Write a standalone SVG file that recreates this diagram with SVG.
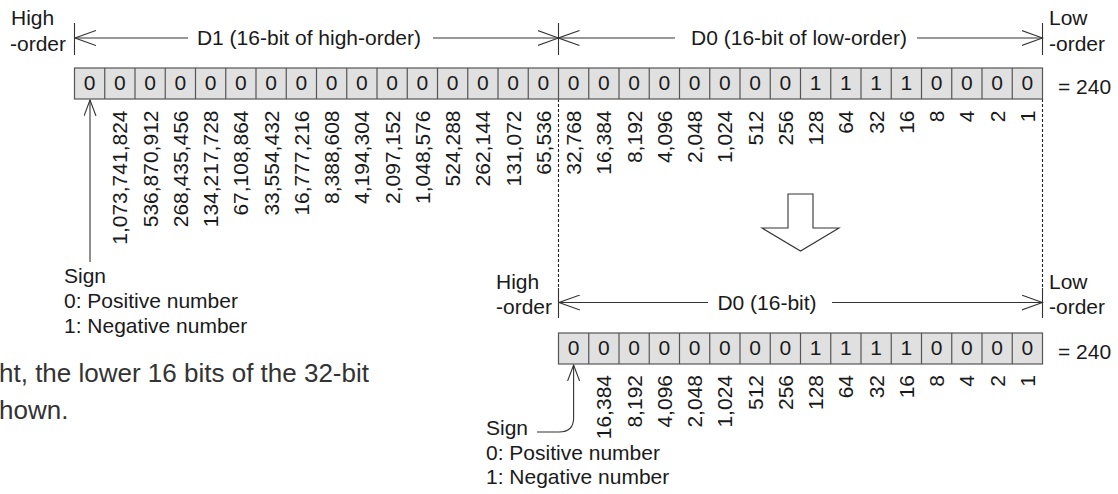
<svg xmlns="http://www.w3.org/2000/svg" width="1118" height="494" viewBox="0 0 1118 494">
<defs>
<style>
text{font-family:"Liberation Sans",Arial,sans-serif;font-size:21px;fill:#1a1a1a}
.c{text-anchor:middle}
.r{text-anchor:end}
.para{font-size:26px;fill:#333}
.cell{fill:#e0e0e0;stroke:#555;stroke-width:1.2}
.div{fill:none;stroke:#555;stroke-width:1.2}
.ln{fill:none;stroke:#333;stroke-width:1.1}
.dash{fill:none;stroke:#222;stroke-width:1.1;stroke-dasharray:3 2}
</style>
<marker id="dim" viewBox="0 0 22 16" refX="21" refY="8" markerWidth="22" markerHeight="16" markerUnits="userSpaceOnUse" orient="auto">
<path d="M0,0.5 L21,8 L0,15.5" fill="none" stroke="#333" stroke-width="1.1"/>
</marker>
<marker id="sig" viewBox="0 0 17 13" refX="16" refY="6.5" markerWidth="17" markerHeight="13" markerUnits="userSpaceOnUse" orient="auto">
<path d="M0,0.5 L16,6.5 L0,12.5" fill="none" stroke="#333" stroke-width="1.1"/>
</marker>
</defs>
<rect width="1118" height="494" fill="#fff"/>

<g id="connectors">
<path class="ln" d="M74.5,23 V55 M558.5,23 V55 M1042.5,23 V55"/>
<path class="ln" d="M188,38 H75" marker-end="url(#dim)"/>
<path class="ln" d="M433,38 H558.5" marker-end="url(#dim)"/>
<path class="ln" d="M675,38 H558.5" marker-end="url(#dim)"/>
<path class="ln" d="M917,38 H1042.5" marker-end="url(#dim)"/>
<path class="dash" d="M558.5,99 V288 M1042.5,99 V288"/>
<path class="ln" d="M558.5,288 V318 M1042.5,288 V318"/>
<path class="ln" d="M708,302.5 H559" marker-end="url(#dim)"/>
<path class="ln" d="M832,302.5 H1042.5" marker-end="url(#dim)"/>
<path class="ln" d="M90,262 V100" marker-end="url(#sig)"/>
<path class="ln" d="M537,432 H559 Q573.6,432 573.6,418 V365" marker-end="url(#sig)"/>
<polygon id="down-arrow" points="788,194 813,194 813,228 839,228 800.5,251 762,228 788,228" fill="#fff" stroke="#333" stroke-width="1.1"/>
</g>

<g id="top-labels">
<text x="11" y="25">High</text>
<text x="10" y="51">-order</text>
<text x="1049" y="25">Low</text>
<text x="1049" y="51">-order</text>
<text class="c" x="309" y="45">D1 (16-bit of high-order)</text>
<text class="c" x="799" y="45">D0 (16-bit of low-order)</text>
</g>

<g id="row32">
<rect class="cell" x="74.5" y="68" width="968" height="31"/>
<path class="div" d="M104.75,68v31M135,68v31M165.25,68v31M195.5,68v31M225.75,68v31M256,68v31M286.25,68v31M316.5,68v31M346.75,68v31M377,68v31M407.25,68v31M437.5,68v31M467.75,68v31M498,68v31M528.25,68v31M558.5,68v31M588.75,68v31M619,68v31M649.25,68v31M679.5,68v31M709.75,68v31M740,68v31M770.25,68v31M800.5,68v31M830.75,68v31M861,68v31M891.25,68v31M921.5,68v31M951.75,68v31M982,68v31M1012.25,68v31"/>
<g class="c">
<text x="89.6" y="90">0</text><text x="119.9" y="90">0</text><text x="150.1" y="90">0</text><text x="180.4" y="90">0</text>
<text x="210.6" y="90">0</text><text x="240.9" y="90">0</text><text x="271.1" y="90">0</text><text x="301.4" y="90">0</text>
<text x="331.6" y="90">0</text><text x="361.9" y="90">0</text><text x="392.1" y="90">0</text><text x="422.4" y="90">0</text>
<text x="452.6" y="90">0</text><text x="482.9" y="90">0</text><text x="513.1" y="90">0</text><text x="543.4" y="90">0</text>
<text x="573.6" y="90">0</text><text x="603.9" y="90">0</text><text x="634.1" y="90">0</text><text x="664.4" y="90">0</text>
<text x="694.6" y="90">0</text><text x="724.9" y="90">0</text><text x="755.1" y="90">0</text><text x="785.4" y="90">0</text>
<text x="815.6" y="90">1</text><text x="845.9" y="90">1</text><text x="876.1" y="90">1</text><text x="906.4" y="90">1</text>
<text x="936.6" y="90">0</text><text x="966.9" y="90">0</text><text x="997.1" y="90">0</text><text x="1027.4" y="90">0</text>
</g>
<text x="1058" y="94">= 240</text>
</g>

<g id="weights32" class="r">
<text transform="translate(127.4 110.5) rotate(-90)">1,073,741,824</text>
<text transform="translate(157.6 110.5) rotate(-90)">536,870,912</text>
<text transform="translate(187.9 110.5) rotate(-90)">268,435,456</text>
<text transform="translate(218.1 110.5) rotate(-90)">134,217,728</text>
<text transform="translate(248.4 110.5) rotate(-90)">67,108,864</text>
<text transform="translate(278.6 110.5) rotate(-90)">33,554,432</text>
<text transform="translate(308.9 110.5) rotate(-90)">16,777,216</text>
<text transform="translate(339.1 110.5) rotate(-90)">8,388,608</text>
<text transform="translate(369.4 110.5) rotate(-90)">4,194,304</text>
<text transform="translate(399.6 110.5) rotate(-90)">2,097,152</text>
<text transform="translate(429.9 110.5) rotate(-90)">1,048,576</text>
<text transform="translate(460.1 110.5) rotate(-90)">524,288</text>
<text transform="translate(490.4 110.5) rotate(-90)">262,144</text>
<text transform="translate(520.6 110.5) rotate(-90)">131,072</text>
<text transform="translate(550.9 110.5) rotate(-90)">65,536</text>
<text transform="translate(581.1 110.5) rotate(-90)">32,768</text>
<text transform="translate(611.4 110.5) rotate(-90)">16,384</text>
<text transform="translate(641.6 110.5) rotate(-90)">8,192</text>
<text transform="translate(671.9 110.5) rotate(-90)">4,096</text>
<text transform="translate(702.1 110.5) rotate(-90)">2,048</text>
<text transform="translate(732.4 110.5) rotate(-90)">1,024</text>
<text transform="translate(762.6 110.5) rotate(-90)">512</text>
<text transform="translate(792.9 110.5) rotate(-90)">256</text>
<text transform="translate(823.1 110.5) rotate(-90)">128</text>
<text transform="translate(853.4 110.5) rotate(-90)">64</text>
<text transform="translate(883.6 110.5) rotate(-90)">32</text>
<text transform="translate(913.9 110.5) rotate(-90)">16</text>
<text transform="translate(944.1 110.5) rotate(-90)">8</text>
<text transform="translate(974.4 110.5) rotate(-90)">4</text>
<text transform="translate(1004.6 110.5) rotate(-90)">2</text>
<text transform="translate(1034.9 110.5) rotate(-90)">1</text>
</g>

<g id="sign32">
<text x="64" y="283">Sign</text>
<text x="64" y="308">0: Positive number</text>
<text x="64" y="333">1: Negative number</text>
</g>

<g id="note">
<text class="para" x="-1" y="382">ht, the lower 16 bits of the 32-bit</text>
<text class="para" x="-1" y="419">hown.</text>
</g>

<g id="bottom-labels">
<text x="496" y="289">High</text>
<text class="r" x="552" y="314">-order</text>
<text x="1049" y="289">Low</text>
<text x="1049" y="314">-order</text>
<text class="c" x="767" y="310">D0 (16-bit)</text>
</g>

<g id="row16">
<rect class="cell" x="558.5" y="333" width="484" height="31"/>
<path class="div" d="M588.75,333v31M619,333v31M649.25,333v31M679.5,333v31M709.75,333v31M740,333v31M770.25,333v31M800.5,333v31M830.75,333v31M861,333v31M891.25,333v31M921.5,333v31M951.75,333v31M982,333v31M1012.25,333v31"/>
<g class="c">
<text x="573.6" y="355">0</text><text x="603.9" y="355">0</text><text x="634.1" y="355">0</text><text x="664.4" y="355">0</text>
<text x="694.6" y="355">0</text><text x="724.9" y="355">0</text><text x="755.1" y="355">0</text><text x="785.4" y="355">0</text>
<text x="815.6" y="355">1</text><text x="845.9" y="355">1</text><text x="876.1" y="355">1</text><text x="906.4" y="355">1</text>
<text x="936.6" y="355">0</text><text x="966.9" y="355">0</text><text x="997.1" y="355">0</text><text x="1027.4" y="355">0</text>
</g>
<text x="1058" y="359">= 240</text>
</g>

<g id="weights16" class="r">
<text transform="translate(611.4 375) rotate(-90)">16,384</text>
<text transform="translate(641.6 375) rotate(-90)">8,192</text>
<text transform="translate(671.9 375) rotate(-90)">4,096</text>
<text transform="translate(702.1 375) rotate(-90)">2,048</text>
<text transform="translate(732.4 375) rotate(-90)">1,024</text>
<text transform="translate(762.6 375) rotate(-90)">512</text>
<text transform="translate(792.9 375) rotate(-90)">256</text>
<text transform="translate(823.1 375) rotate(-90)">128</text>
<text transform="translate(853.4 375) rotate(-90)">64</text>
<text transform="translate(883.6 375) rotate(-90)">32</text>
<text transform="translate(913.9 375) rotate(-90)">16</text>
<text transform="translate(944.1 375) rotate(-90)">8</text>
<text transform="translate(974.4 375) rotate(-90)">4</text>
<text transform="translate(1004.6 375) rotate(-90)">2</text>
<text transform="translate(1034.9 375) rotate(-90)">1</text>
</g>

<g id="sign16">
<text x="486" y="435">Sign</text>
<text x="486" y="460">0: Positive number</text>
<text x="486" y="484">1: Negative number</text>
</g>
</svg>
